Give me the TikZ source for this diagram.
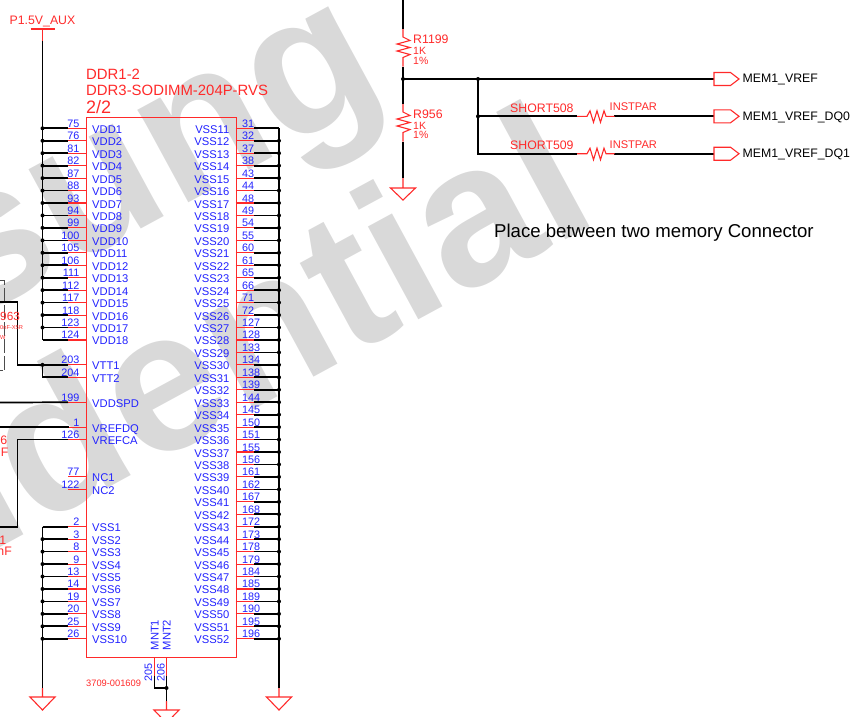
\documentclass[tikz,border=0pt]{standalone}
\usepackage{fontspec}
\setmainfont{Liberation Sans}
\usetikzlibrary{positioning}

\definecolor{schred}{HTML}{FF2A2A}
\definecolor{schblue}{HTML}{2222FF}
\definecolor{wmgray}{HTML}{D9D9D9}

\tikzset{
    wire/.style={draw=black, line width=1.7pt},
    pin/.style={draw=schred, line width=1.1pt},
    junction/.style={circle, fill=black, inner sep=0pt, minimum size=4pt},
    pinnum/.style={text=schblue, inner sep=0pt, font=\fontsize{10.8}{11}\selectfont},
    pinname/.style={text=schblue, inner sep=0pt, font=\fontsize{11.2}{12}\selectfont},
    redlabel/.style={text=schred, inner sep=0pt, anchor=west, font=\fontsize{12.3}{13}\selectfont},
    valuelabel/.style={text=schred, inner sep=0pt, anchor=west, font=\fontsize{10.5}{11}\selectfont},
    netlabel/.style={text=black, inner sep=0pt, anchor=west, font=\fontsize{12.3}{13}\selectfont},
    watermark/.style={text=wmgray, inner sep=0pt, rotate=28.5, font=\fontsize{200}{200}\selectfont\bfseries}
}

% one pin on the left or right edge of the connector, row counted from the top
\newcommand{\leftpin}[3]{
    \pgfmathsetmacro{\rowy}{128.3+12.45*(#3-1)}
    \coordinate (lw#2) at (42.5,\rowy);
    \coordinate (ls#2) at (68,\rowy);
    \coordinate (lb#2) at (86,\rowy);
    \draw[pin] (ls#2) -- (lb#2);
    \node[pinnum, anchor=base east] (ln#2) at (79.5,\rowy-1) {#2};
    \node[pinname, anchor=base west] (lt#2) at (92,\rowy+5) {#1};
}
\newcommand{\rightpin}[3]{
    \pgfmathsetmacro{\rowy}{128.3+12.45*(#3-1)}
    \coordinate (rw#2) at (279,\rowy);
    \coordinate (rs#2) at (254,\rowy);
    \coordinate (rb#2) at (235.5,\rowy);
    \draw[pin] (rb#2) -- (rs#2);
    \node[pinnum, anchor=base west] (rn#2) at (242,\rowy-1) {#2};
    \node[pinname, anchor=base east] (rt#2) at (229.5,\rowy+5) {#1};
}
% ground symbol below a named point
\newcommand{\gndsym}[1]{
    \draw[pin] (#1) -- ++(0,9) -- ++(-12.5,0) -- ++(12.5,13) -- ++(12.5,-13) -- ++(-12.5,0);
}
\newcommand{\resvert}[1]{
    \draw[pin] (#1) -- ++(0,8) -- ++(7,3.5) -- ++(-13,3.5) -- ++(13,3.5) -- ++(-13,3.5) -- ++(13,3.5) -- ++(-7,3) -- ++(0,9);
}
\newcommand{\reshoriz}[1]{
    \draw[pin] (#1) -- ++(10,0) -- ++(3,-5.5) -- ++(3.5,11.5) -- ++(3.5,-11.5) -- ++(3.5,11.5) -- ++(3.5,-11.5) -- ++(2,5.5) -- ++(8.5,0);
}
\newcommand{\offpage}[1]{
    \draw[pin] (#1) -- ++(0,-6.5) -- ++(16.5,0) -- ++(8.5,6.5) -- ++(-8.5,6.5) -- ++(-16.5,0) -- cycle;
}

\begin{document}
\begin{tikzpicture}[x=1pt, y=-1pt]
    \useasboundingbox (0,0) rectangle (855,716);
    \clip (0,0) rectangle (855,716);

    \node[watermark, anchor=base east] (wmsam) at (391,93) {Samsung};
    \node[watermark, anchor=base east] (wmcon) at (602.5,220) {Confidential};

    % connector body
    \node[draw=schred, line width=1.1pt, minimum width=149.5pt, minimum height=540pt, inner sep=0pt, anchor=north west] (ddr) at (86,117) {};
    \node[text=schred, inner sep=0pt, anchor=base west, font=\fontsize{14.9}{15}\selectfont] (ddrref) at (86,79) {DDR1-2};
    \node[text=schred, inner sep=0pt, anchor=base west, font=\fontsize{14.9}{15}\selectfont] (ddrtype) at (86,95.5) {DDR3-SODIMM-204P-RVS};
    \node[text=schred, inner sep=0pt, anchor=base west, font=\fontsize{18}{18}\selectfont] (ddrpart) at (86,113) {2/2};
    \node[text=schred, inner sep=0pt, anchor=west, font=\fontsize{9.3}{10}\selectfont] (ddrcode) at (86,683) {3709-001609};

    % left pins
    \foreach \num [count=\i] in {75,76,81,82,87,88,93,94,99,100,105,106,111,112,117,118,123,124} {
        \leftpin{VDD\i}{\num}{\i}
    }
    \leftpin{VTT1}{203}{20}
    \leftpin{VTT2}{204}{21}
    \leftpin{VDDSPD}{199}{23}
    \leftpin{VREFDQ}{1}{25}
    \leftpin{VREFCA}{126}{26}
    \leftpin{NC1}{77}{29}
    \leftpin{NC2}{122}{30}
    \foreach \num [count=\i] in {2,3,8,9,13,14,19,20,25,26} {
        \pgfmathtruncatemacro{\row}{\i+32}
        \leftpin{VSS\i}{\num}{\row}
    }

    % right pins
    \foreach \num [count=\i] in {31,32,37,38,43,44,48,49,54,55,60,61,65,66,71,72,127,128,133,134,138,139,144,145,150,151,155,156,161,162,167,168,172,173,178,179,184,185,189,190,195,196} {
        \pgfmathtruncatemacro{\vss}{\i+10}
        \rightpin{VSS\vss}{\num}{\i}
    }

    % mounting pins
    \coordinate (mnt1b) at (154.5,657.5);
    \coordinate (mnt2b) at (166.5,657.5);
    \coordinate (mnt1e) at (154.5,676);
    \coordinate (mnt2e) at (166.5,676);
    \coordinate (mntc) at (154.5,688);
    \coordinate (mntj) at (166.5,688);
    \coordinate (gndm) at (166.5,701);
    \draw[pin] (mnt1b) -- (mnt1e);
    \draw[pin] (mnt2b) -- (mnt2e);
    \node[pinname, rotate=90, anchor=base west] (mnt1t) at (158.5,650.5) {MNT1};
    \node[pinname, rotate=90, anchor=base west] (mnt2t) at (170.5,650.5) {MNT2};
    \node[pinnum, rotate=90, anchor=base west] (mnt1n) at (152,682) {205};
    \node[pinnum, rotate=90, anchor=base west] (mnt2n) at (164.5,682) {206};
    \draw[wire] (mnt1e) -- (mntc) -- (mntj);
    \draw[wire] (mnt2e) -- (gndm);
    \node[junction] (jm) at (mntj) {};
    \gndsym{gndm}

    % power rail
    \coordinate (pwr) at (42.5,41);
    \coordinate (pwrbar) at (42.5,29);
    \draw[pin] (pwr) -- (pwrbar);
    \draw[pin] ([xshift=-12pt]pwrbar) -- ([xshift=12pt]pwrbar);
    \node[redlabel, anchor=base] (pwrlabel) at (42.5,24) {P1.5V\_AUX};
    \draw[wire] (pwr) -- (lw124);
    \foreach \num in {75,76,81,82,87,88,93,94,99,100,105,106,111,112,117,118,123,124} {
        \draw[wire] (lw\num) -- (ls\num);
    }
    \foreach \num in {75,76,81,82,87,88,93,94,99,100,105,106,111,112,117,118,123} {
        \node[junction] (jl\num) at (lw\num) {};
    }

    % left ground rail
    \coordinate (gndl) at (42.5,688);
    \draw[wire] (lw2) -- (gndl);
    \foreach \num in {2,3,8,9,13,14,19,20,25,26} {
        \draw[wire] (lw\num) -- (ls\num);
    }
    \foreach \num in {3,8,9,13,14,19,20,25,26} {
        \node[junction] (jl\num) at (lw\num) {};
    }
    \gndsym{gndl}

    % right ground rail
    \coordinate (gndr) at (279,688);
    \draw[wire] (rw31) -- (gndr);
    \foreach \num in {31,32,37,38,43,44,48,49,54,55,60,61,65,66,71,72,127,128,133,134,138,139,144,145,150,151,155,156,161,162,167,168,172,173,178,179,184,185,189,190,195,196} {
        \draw[wire] (rs\num) -- (rw\num);
    }
    \foreach \num in {32,37,38,43,44,48,49,54,55,60,61,65,66,71,72,127,128,133,134,138,139,144,145,150,151,155,156,161,162,167,168,172,173,178,179,184,185,189,190,195,196} {
        \node[junction] (jr\num) at (rw\num) {};
    }
    \gndsym{gndr}

    % parts cut off at the left edge
    \coordinate (capa) at (-5,280.7);
    \coordinate (capb) at (4.8,280.7);
    \coordinate (capc) at (4.8,370.7);
    \coordinate (capd) at (-5,370.7);
    \draw[draw=black!70, line width=0.8pt, dash pattern=on 14pt off 3pt] (capa) -- (capb) -- (capc) -- (capd);
    \coordinate (vtta) at (-5,302);
    \coordinate (vttb) at (17.5,302);
    \draw[wire] (vtta) -- (vttb) -- (vttb |- ls203) -- (ls203);
    \draw[wire] (lw203) -- (lw204) -- (ls204);
    \node[junction] (jvtt) at (lw203) {};
    \coordinate (spda) at (-5,402.6);
    \draw[wire] (spda) -- (ls199);
    \coordinate (dqa) at (-5,427);
    \draw[wire] (dqa) -- (dqa -| ls1) -- (ls1);
    \coordinate (caa) at (-5,526.7);
    \coordinate (cab) at (17.5,526.7);
    \draw[wire] (caa) -- (cab) -- (cab |- ls126) -- (ls126);
    \node[text=schred, inner sep=0pt, anchor=base west, font=\fontsize{11.8}{13}\selectfont] (capref) at (0,320.5) {963};
    \node[text=schred, inner sep=0pt, anchor=base west, font=\fontsize{5.7}{6}\selectfont] (capval) at (0,329.5) {0nF-X5R};
    \node[text=schred, inner sep=0pt, anchor=base west, font=\fontsize{5.7}{6}\selectfont] (capw) at (0,339.5) {W};
    \node[redlabel, anchor=base east] (capreftwo) at (7.5,444) {6};
    \node[redlabel, anchor=base east] (capvaltwo) at (8.5,456) {nF};
    \node[redlabel, anchor=base east] (caprefthree) at (6.5,544) {1};
    \node[redlabel, anchor=base east] (capvalthree) at (12,555.5) {nF};

    % divider
    \coordinate (rtop) at (403,-5);
    \coordinate (rone) at (403,29);
    \coordinate (ronee) at (403,67);
    \coordinate (vref) at (403,79);
    \coordinate (rtwo) at (403,104);
    \coordinate (rtwoe) at (403,142);
    \coordinate (gndd) at (403,178);
    \draw[wire] (rtop) -- (rone);
    \resvert{rone}
    \draw[wire] (ronee) -- (rtwo);
    \resvert{rtwo}
    \draw[wire] (rtwoe) -- (gndd);
    \draw[pin] (gndd) -- ++(0,10) -- ++(-12.5,0) -- ++(12.5,12) -- ++(12.5,-12) -- ++(-12.5,0);
    \node[junction] (jvref) at (vref) {};
    \node[redlabel, anchor=base west] (r1199) at (413,43) {R1199};
    \node[valuelabel] (r1199v) at (413,51) {1K};
    \node[valuelabel] (r1199t) at (413,60.5) {1\%};
    \node[redlabel, anchor=base west] (r956) at (413,118) {R956};
    \node[valuelabel] (r956v) at (413,126) {1K};
    \node[valuelabel] (r956t) at (413,135) {1\%};

    % vref nets
    \coordinate (vrefo) at (714,79);
    \coordinate (dqz) at (714,116.3);
    \coordinate (dqo) at (714,153.7);
    \coordinate (jdq) at (478,79);
    \coordinate (jza) at (478,116.3);
    \coordinate (joa) at (478,153.7);
    \coordinate (sza) at (577,116.3);
    \coordinate (szb) at (614,116.3);
    \coordinate (soa) at (577,153.7);
    \coordinate (sob) at (614,153.7);
    \draw[wire] (vref) -- (vrefo);
    \draw[wire] (jdq) -- (joa) -- (soa);
    \draw[wire] (jza) -- (sza);
    \draw[wire] (szb) -- (dqz);
    \draw[wire] (sob) -- (dqo);
    \node[junction] (jd) at (jdq) {};
    \node[junction] (jz) at (jza) {};
    \reshoriz{sza}
    \reshoriz{soa}
    \offpage{vrefo}
    \offpage{dqz}
    \offpage{dqo}
    \node[netlabel] (lvref) at (742.5,79.5) {MEM1\_VREF};
    \node[netlabel] (ldqz) at (742.5,117) {MEM1\_VREF\_DQ0};
    \node[netlabel] (ldqo) at (742.5,154) {MEM1\_VREF\_DQ1};
    \node[redlabel] (s508) at (510,108) {SHORT508};
    \node[redlabel, font=\fontsize{11.1}{12}\selectfont] (i508) at (609.5,107) {INSTPAR};
    \node[redlabel] (s509) at (510,145) {SHORT509};
    \node[redlabel, font=\fontsize{11.1}{12}\selectfont] (i509) at (609.5,145) {INSTPAR};
    \node[text=black, inner sep=0pt, anchor=west, font=\fontsize{18.6}{19}\selectfont] (place) at (494,233) {Place between two memory Connector};
\end{tikzpicture}
\end{document}
